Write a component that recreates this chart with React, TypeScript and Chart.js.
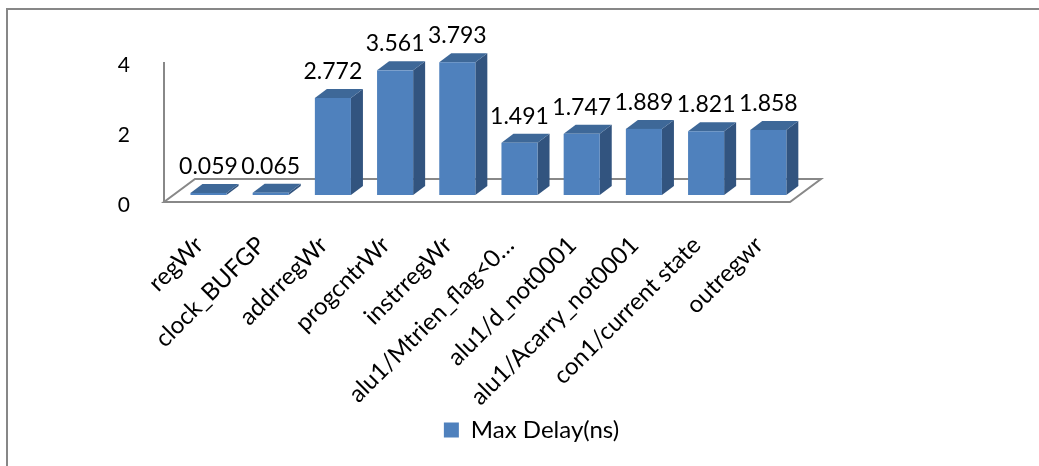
import React, { useEffect, useRef } from "react";
import { Chart, registerables } from "chart.js";

Chart.register(...registerables);

// ---- data ----
const categories = [
  "regWr",
  "clock_BUFGP",
  "addrregWr",
  "progcntrWr",
  "instrregWr",
  "alu1/Mtrien_flag<0…",
  "alu1/d_not0001",
  "alu1/Acarry_not0001",
  "con1/current state",
  "outregwr",
];
const maxDelay = [0.059, 0.065, 2.772, 3.561, 3.793, 1.491, 1.747, 1.889, 1.821, 1.858];
const seriesName = "Max Delay(ns)";
const yMin = 0;
const yMax = 4;
const yStep = 2;

// ---- style ----
const FONT = "Lato, 'Open Sans', sans-serif";
const FRONT = "#4f81bd";
const TOP = "#3e6898";
const SIDE = "#32547f";
const GRID = "#888888";

// 3D geometry (pixels)
const FLOOR_DX = 31;
const FLOOR_DY = 23;
const BAR_SHIFT_X = 9.4;
const BAR_SHIFT_Y = 10;
const BAR_DX = 12;
const BAR_DY = 9;

const threeD = {
  id: "threeD",
  beforeDraw(chart: any) {
    const { ctx, width, height } = chart;
    ctx.save();
    ctx.fillStyle = "#ffffff";
    ctx.fillRect(0, 0, width, height);
    // outer frame (top & left visible)
    ctx.fillStyle = "#878787";
    ctx.fillRect(6, 8, width - 6, 2);
    ctx.fillRect(6, 8, 2, height - 8);

    const xs = chart.scales.x;
    const ys = chart.scales.y;
    const y0 = ys.getPixelForValue(yMin) - 3;
    const yTop = ys.getPixelForValue(yMax) - 3;
    const left = xs.left - 4;
    const right = xs.right;
    ctx.strokeStyle = GRID;
    ctx.lineWidth = 2;
    ctx.lineJoin = "miter";
    ctx.beginPath();
    ctx.moveTo(left, y0);
    ctx.lineTo(right, y0);
    ctx.lineTo(right + FLOOR_DX, y0 - FLOOR_DY);
    ctx.lineTo(left + FLOOR_DX, y0 - FLOOR_DY);
    ctx.closePath();
    ctx.stroke();
    // vertical axis line
    ctx.beginPath();
    ctx.moveTo(left, yTop);
    ctx.lineTo(left, y0);
    ctx.stroke();
    ctx.restore();
  },
  beforeDatasetDraw() {
    return false;
  },
  afterDatasetsDraw(chart: any) {
    const { ctx } = chart;
    const meta = chart.getDatasetMeta(0);
    const values = chart.data.datasets[0].data as number[];
    ctx.save();
    meta.data.forEach((bar: any, i: number) => {
      const { x, y, base, width } = bar.getProps(["x", "y", "base", "width"], true);
      const l = x - width / 2 + BAR_SHIFT_X;
      const r = x + width / 2 + BAR_SHIFT_X;
      const t = y - BAR_SHIFT_Y;
      const b = base - BAR_SHIFT_Y;
      // side face
      ctx.fillStyle = SIDE;
      ctx.beginPath();
      ctx.moveTo(r, b);
      ctx.lineTo(r, t);
      ctx.lineTo(r + BAR_DX, t - BAR_DY);
      ctx.lineTo(r + BAR_DX, b - BAR_DY);
      ctx.closePath();
      ctx.fill();
      // top face
      ctx.fillStyle = TOP;
      ctx.beginPath();
      ctx.moveTo(l, t);
      ctx.lineTo(r, t);
      ctx.lineTo(r + BAR_DX, t - BAR_DY);
      ctx.lineTo(l + BAR_DX, t - BAR_DY);
      ctx.closePath();
      ctx.fill();
      // front face
      ctx.fillStyle = FRONT;
      ctx.fillRect(l, t, r - l, b - t);
      // value label
      ctx.fillStyle = "#000000";
      ctx.font = `23px ${FONT}`;
      ctx.textAlign = "center";
      ctx.textBaseline = "alphabetic";
      ctx.fillText(values[i].toFixed(3), (l + r) / 2, t - BAR_DY - 10);
    });
    ctx.restore();
  },
};

export default function App() {
  const ref = useRef<HTMLCanvasElement | null>(null);
  useEffect(() => {
    if (!ref.current) return;
    const chart = new Chart(ref.current, {
      type: "bar",
      data: {
        labels: categories,
        datasets: [
          {
            label: seriesName,
            data: maxDelay,
            backgroundColor: FRONT,
            borderWidth: 0,
            categoryPercentage: 1,
            barPercentage: 0.58,
          },
        ],
      },
      options: {
        responsive: false,
        animation: false,
        events: [],
        layout: { padding: { left: 24, right: 0, top: 65, bottom: 14 } },
        plugins: {
          tooltip: { enabled: false },
          legend: {
            position: "bottom",
            labels: {
              boxWidth: 15,
              boxHeight: 15,
              padding: 10,
              color: "#000000",
              font: { family: FONT, size: 24 },
            },
          },
        },
        scales: {
          x: {
            grid: { display: false },
            border: { display: false },
            ticks: {
              autoSkip: false,
              minRotation: 45,
              maxRotation: 45,
              padding: 18,
              labelOffset: 0,
              color: "#000000",
              font: { family: FONT, size: 24 },
            },
            afterFit: (s: any) => {
              s.height = 203;
            },
          },
          y: {
            min: yMin,
            max: yMax,
            grid: { display: false },
            border: { display: false },
            ticks: {
              stepSize: yStep,
              padding: 30,
              color: "#000000",
              font: { family: FONT, size: 21 },
            },
            afterFit: (s: any) => {
              s.width = 144;
            },
          },
          y2: {
            position: "right",
            display: true,
            grid: { display: false },
            border: { display: false },
            ticks: { display: false },
            afterFit: (s: any) => {
              s.width = 249;
            },
          },
        },
      },
      plugins: [threeD],
    });
    return () => chart.destroy();
  }, []);
  return (
    <div style={{ position: "fixed", left: 0, top: 0, width: 1039, height: 466, background: "#fff" }}>
      <canvas ref={ref} width={1039} height={466} style={{ display: "block" }} />
    </div>
  );
}
